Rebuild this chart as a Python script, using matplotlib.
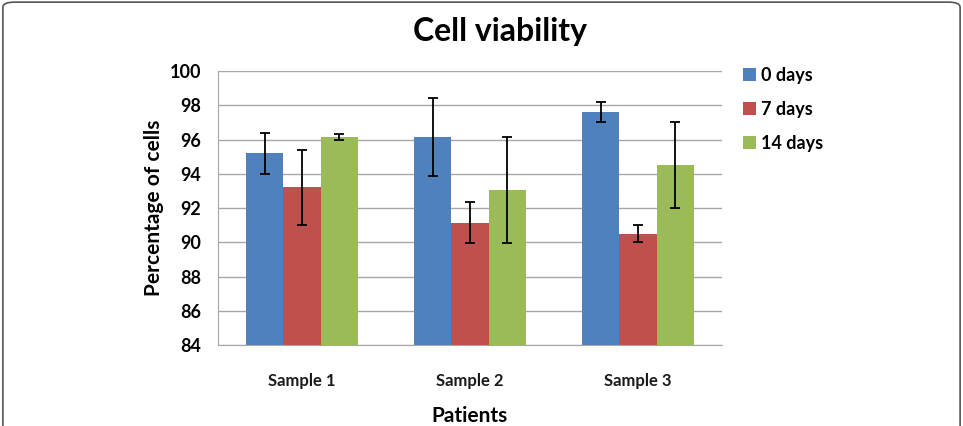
import numpy as np
import matplotlib
matplotlib.use('Agg')
import matplotlib.pyplot as plt
from matplotlib.patches import FancyBboxPatch

categories = ['Sample 1', 'Sample 2', 'Sample 3']
series_names = ['0 days', '7 days', '14 days']
day0 = [95.2, 96.15, 97.6]
day7 = [93.2, 91.15, 90.5]
day14 = [96.15, 93.05, 94.5]
err0 = [1.2, 2.3, 0.6]
err7 = [2.2, 1.2, 0.5]
err14 = [0.2, 3.1, 2.5]
colors = ['#4F81BD', '#C0504D', '#9BBB59']

plt.rcParams['font.family'] = ['Lato', 'DejaVu Sans']

fig = plt.figure(figsize=(9.63, 4.26), dpi=100)
ax = fig.add_axes([0.2264, 0.190, 0.5233, 0.6433])

x = np.arange(len(categories))
width = 1 / 4.5
values = [day0, day7, day14]
errors = [err0, err7, err14]
for i, (vals, errs) in enumerate(zip(values, errors)):
    ax.bar(x + (i - 1) * width, vals, width, bottom=0, color=colors[i],
           label=series_names[i], zorder=3,
           yerr=errs, error_kw=dict(ecolor='black', elinewidth=1.3,
                                    capsize=3.5, capthick=1.3, zorder=4))

ax.set_xlim(-0.5, 2.5)
ax.set_ylim(84, 100)
ax.set_yticks(np.arange(84, 101, 2))
ax.set_xticks(x)
ax.set_xticklabels(categories, fontsize=12, fontweight='bold', color='#1a1a1a')
ax.tick_params(axis='x', length=0, pad=20)
ax.tick_params(axis='y', length=0, pad=12)
for lab in ax.get_yticklabels():
    lab.set_fontsize(13)
    lab.set_fontweight('bold')
ax.grid(axis='y', color='#a8a8a8', linewidth=1, zorder=0)
for side in ['top', 'right']:
    ax.spines[side].set_visible(False)
ax.spines['left'].set_color('#a8a8a8')
ax.spines['bottom'].set_color('#a8a8a8')

ax.set_ylabel('Percentage of cells', fontsize=15, fontweight='bold', labelpad=4)
ax.set_xlabel('Patients', fontsize=15, fontweight='bold', labelpad=12)
fig.text(0.519, 0.925, 'Cell viability', ha='center', va='center',
         fontsize=23, fontweight='bold')

leg = ax.legend(loc='upper left', bbox_to_anchor=(1.01, 1.075), frameon=False,
                prop=dict(size=13, weight='bold'), handlelength=0.7,
                handleheight=0.7, handletextpad=0.3, labelspacing=0.95)

frame = FancyBboxPatch((0.003, -0.05), 0.994, 1.045, transform=fig.transFigure,
                       boxstyle='round,pad=0,rounding_size=0.012',
                       facecolor='none', edgecolor='#555555', linewidth=1.2)
fig.patches.append(frame)

fig.savefig('out.png', dpi=100)
